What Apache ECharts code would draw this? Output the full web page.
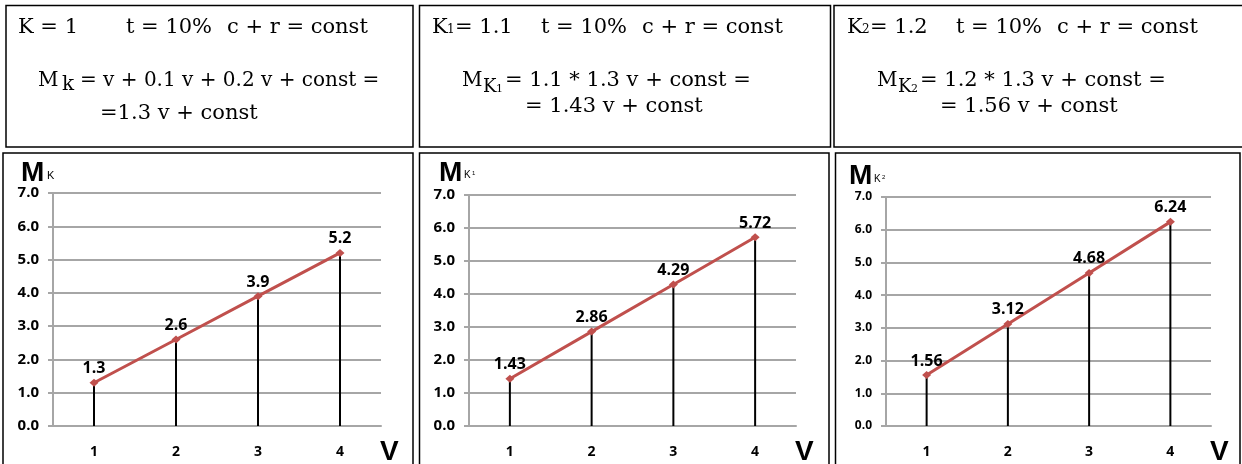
<!DOCTYPE html>
<html>
<head>
<meta charset="utf-8">
<script src="https://cdn.jsdelivr.net/npm/echarts@6/dist/echarts.min.js"></script>
<style>
  html, body { margin: 0; padding: 0; background: #fff; }
  #container { width: 1242px; height: 464px; }
</style>
</head>
<body>
<div id="container"></div>
<script>
// data
var categories = ['1', '2', '3', '4'];
var mK  = [1.3, 2.6, 3.9, 5.2];
var mK1 = [1.43, 2.86, 4.29, 5.72];
var mK2 = [1.56, 3.12, 4.68, 6.24];
var yTicks = ['0.0', '1.0', '2.0', '3.0', '4.0', '5.0', '6.0', '7.0'];

var serif = 'DejaVu Serif';
var sans = 'Open Sans';
var red = '#C0504D';
var gray = '#a6a6a6';

var myChart = echarts.init(document.getElementById('container'));

function txt(x, y, text, size, family, weight) {
  return {
    type: 'text', x: x, y: y, z: 10,
    style: {
      text: text, fontSize: size, fontFamily: family || serif,
      fontWeight: weight || 'normal', fill: '#000',
      align: 'left', verticalAlign: 'middle'
    }
  };
}
function box(x, y, w, h) {
  return {
    type: 'rect', z: 5,
    shape: { x: x, y: y, width: w, height: h },
    style: { fill: 'none', stroke: '#000', lineWidth: 1.5 }
  };
}

var grids = [
  { left: 53, top: 193, width: 328, height: 233 },
  { left: 469, top: 195, width: 327, height: 231 },
  { left: 886, top: 197, width: 325, height: 229 }
];
var seriesData = [mK, mK1, mK2];
var yLabelSize = [15, 15, 12];

var xAxes = [], yAxes = [], series = [];
grids.forEach(function (g, i) {
  xAxes.push({
    type: 'category', gridIndex: i, data: categories,
    axisTick: { show: false },
    axisLine: { lineStyle: { color: gray, width: 2 } },
    axisLabel: { color: '#000', fontWeight: 'bold', fontSize: 14, fontFamily: sans, margin: 19 }
  });
  yAxes.push({
    type: 'value', gridIndex: i, min: 0, max: 7, interval: 1,
    axisLine: { show: true, lineStyle: { color: gray, width: 2 } },
    axisTick: { show: true, length: 5, lineStyle: { color: gray, width: 2 } },
    splitLine: { lineStyle: { color: gray, width: 2 } },
    axisLabel: {
      color: '#000', fontWeight: 'bold', fontSize: yLabelSize[i], fontFamily: sans, margin: 14,
      formatter: function (v) { return yTicks[Math.round(v)]; }
    }
  });
  series.push({
    type: 'bar', xAxisIndex: i, yAxisIndex: i, data: seriesData[i],
    barWidth: 2, itemStyle: { color: '#000' }, z: 2
  });
  series.push({
    type: 'line', xAxisIndex: i, yAxisIndex: i, data: seriesData[i],
    symbol: 'diamond', symbolSize: [9, 8], z: 3,
    lineStyle: { color: red, width: 3 },
    itemStyle: { color: red },
    label: {
      show: true, position: 'top', distance: 2, color: '#000',
      fontWeight: 'bold', fontSize: 16, fontFamily: sans
    }
  });
});

var graphics = [
  // frames
  box(6, 5.5, 407, 141.5),
  box(419.5, 5.5, 411, 141.5),
  box(834, 5.5, 420, 141.5),
  box(3, 153, 410, 320),
  box(419.5, 153, 409.5, 320),
  box(835.5, 153, 404.5, 320),

  // box 1
  txt(18, 28, 'K = 1', 21),
  txt(126, 28, 't = 10%', 21),
  txt(227, 28, 'c + r = const', 21),
  txt(38, 81, 'M', 20),
  txt(62, 85, 'k', 20),
  txt(80, 81, '= v + 0.1 v + 0.2 v + const =', 20),
  txt(100, 114, '=1.3 v + const', 21),

  // box 2
  txt(432, 28, 'K', 21),
  txt(447, 30, '1', 12),
  txt(455, 28, '= 1.1', 21),
  txt(541, 28, 't = 10%', 21),
  txt(642, 28, 'c + r = const', 21),
  txt(462, 81, 'M', 20),
  txt(483, 87, 'K', 18),
  txt(496, 89, '1', 11),
  txt(505, 81, '= 1.1 * 1.3 v + const =', 21),
  txt(525, 107, '= 1.43 v + const', 21),

  // box 3
  txt(847, 28, 'K', 21),
  txt(862, 30, '2', 12),
  txt(870, 28, '= 1.2', 21),
  txt(956, 28, 't = 10%', 21),
  txt(1057, 28, 'c + r = const', 21),
  txt(877, 81, 'M', 20),
  txt(898, 87, 'K', 18),
  txt(911, 89, '2', 11),
  txt(920, 81, '= 1.2 * 1.3 v + const =', 21),
  txt(940, 107, '= 1.56 v + const', 21),

  // axis captions
  txt(21, 173, 'M', 28, 'Liberation Sans', 'bold'),
  txt(47, 176, 'K', 11, 'Liberation Sans'),
  txt(439, 173, 'M', 28, 'Liberation Sans', 'bold'),
  txt(464, 175, 'K', 10, 'Liberation Sans'),
  txt(472, 173, '1', 6, 'Liberation Sans'),
  txt(849, 176, 'M', 28, 'Liberation Sans', 'bold'),
  txt(874, 179, 'K', 10, 'Liberation Sans'),
  txt(882, 177, '2', 6, 'Liberation Sans'),
  txt(380, 452, 'V', 28, 'Liberation Sans', 'bold'),
  txt(795, 452, 'V', 28, 'Liberation Sans', 'bold'),
  txt(1210, 452, 'V', 28, 'Liberation Sans', 'bold')
];

var options = {
  animation: false,
  grid: grids,
  xAxis: xAxes,
  yAxis: yAxes,
  series: series,
  graphic: { elements: graphics }
};

myChart.setOption(options);
</script>
</body>
</html>
